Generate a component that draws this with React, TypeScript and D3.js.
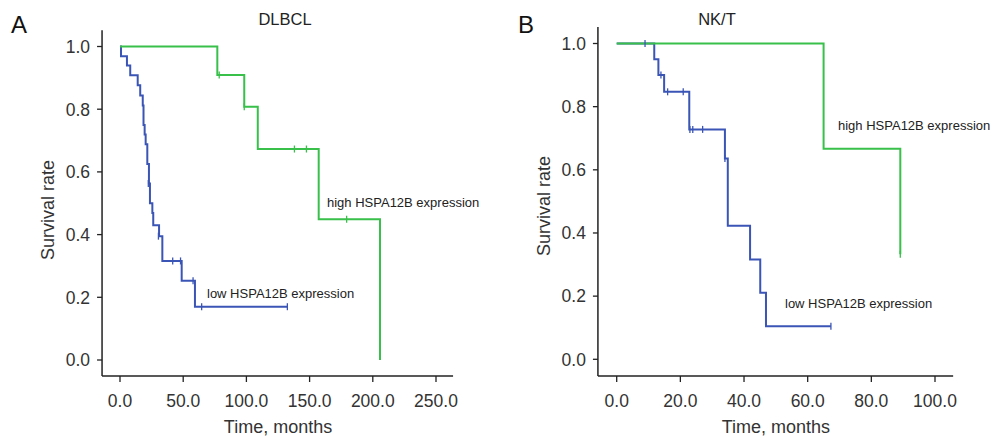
import React from "react";
import * as d3 from "d3";

// ---------- DATA ----------
// Panel A (DLBCL)
const lowA_steps: [number, number][] = [
  [0, 1], [0.8, 0.969], [5.5, 0.939], [8.1, 0.908], [14, 0.876], [16, 0.844],
  [18, 0.812], [18.6, 0.75], [19.5, 0.719], [20.3, 0.688], [21.6, 0.625],
  [22.9, 0.563], [23.7, 0.5], [25.6, 0.469], [26.3, 0.43], [30.9, 0.395],
  [33.5, 0.316], [48.8, 0.253], [59.3, 0.17], [132.4, 0.17],
];
const lowA_censor: [number, number][] = [
  [22.4, 0.563], [30.4, 0.395], [41.7, 0.316], [47.9, 0.316], [57.8, 0.253],
  [64.6, 0.17], [132.4, 0.17],
];
const highA_steps: [number, number][] = [
  [0, 1], [77, 0.909], [98.3, 0.808], [109, 0.673], [157.2, 0.449], [205.7, 0],
  [205.7, 0],
];
const highA_censor: [number, number][] = [
  [78.5, 0.909], [98.3, 0.808], [138, 0.673], [147.5, 0.673], [179.3, 0.449],
];
// Panel B (NK/T)
const lowB_steps: [number, number][] = [
  [0, 1], [11.8, 0.95], [13.1, 0.9], [14.9, 0.847], [22.8, 0.728], [34, 0.636],
  [34.9, 0.423], [41.9, 0.316], [45.1, 0.211], [46.9, 0.105], [67.3, 0.105],
];
const lowB_censor: [number, number][] = [
  [8.9, 1], [13.9, 0.9], [16, 0.847], [20.9, 0.847], [23, 0.728], [23.9, 0.728],
  [27, 0.728], [34, 0.636], [67.3, 0.105],
];
const highB_steps: [number, number][] = [
  [0, 1], [65, 0.667], [89.1, 0.333], [89.1, 0.333],
];
const highB_censor: [number, number][] = [[89.1, 0.333]];

const xTicksA = [0, 50, 100, 150, 200, 250];
const xTicksB = [0, 20, 40, 60, 80, 100];
const yTicks = [0, 0.2, 0.4, 0.6, 0.8, 1.0];

const GREEN = "#38c04a";
const BLUE = "#3a55b5";
const FONT = "'Liberation Sans', Arial, Helvetica, sans-serif";

type PanelProps = {
  letter: string;
  title: string;
  titleX: number;
  letterX: number;
  x: d3.ScaleLinear<number, number>;
  y: d3.ScaleLinear<number, number>;
  xAxisDomain: [number, number];
  yAxisDomain: [number, number];
  xTicks: number[];
  low: [number, number][];
  lowC: [number, number][];
  high: [number, number][];
  highC: [number, number][];
  lowLabel: [number, number];
  highLabel: [number, number];
  yLabelCenter: number;
};

function Panel(p: PanelProps) {
  const { x, y } = p;
  const line = d3
    .line<[number, number]>()
    .x((d) => x(d[0]))
    .y((d) => y(d[1]))
    .curve(d3.curveStepAfter);
  const x0 = x(p.xAxisDomain[0]);
  const x1 = x(p.xAxisDomain[1]);
  const yb = y(p.yAxisDomain[0]);
  const yt = y(p.yAxisDomain[1]);
  const censor = (pts: [number, number][], color: string) =>
    pts.map((d, i) => (
      <line
        key={i}
        x1={x(d[0])}
        x2={x(d[0])}
        y1={y(d[1]) - 3.5}
        y2={y(d[1]) + 3.5}
        stroke={color}
        strokeWidth={1.3}
      />
    ));
  return (
    <g fontFamily={FONT}>
      <text x={p.letterX} y={33} fontSize={24} fill="#111">{p.letter}</text>
      <text x={p.titleX} y={25} fontSize={16.5} fill="#222" textAnchor="middle">{p.title}</text>
      {/* axes */}
      <line x1={x0} x2={x0} y1={yt} y2={yb} stroke="#222" strokeWidth={1.5} />
      <line x1={x0} x2={x1} y1={yb} y2={yb} stroke="#222" strokeWidth={1.5} />
      {yTicks.map((t) => (
        <g key={t}>
          <line x1={x0 - 5} x2={x0} y1={y(t)} y2={y(t)} stroke="#222" strokeWidth={1.3} />
          <text x={x0 - 12} y={y(t)} dy="0.36em" fontSize={17.5} fill="#333" textAnchor="end">
            {t.toFixed(1)}
          </text>
        </g>
      ))}
      {p.xTicks.map((t) => (
        <g key={t}>
          <line x1={x(t)} x2={x(t)} y1={yb} y2={yb + 6} stroke="#222" strokeWidth={1.3} />
          <text x={x(t)} y={yb + 31} fontSize={17.5} fill="#333" textAnchor="middle">
            {t.toFixed(1)}
          </text>
        </g>
      ))}
      <text x={(x(p.xTicks[0]) + x(p.xTicks[p.xTicks.length - 1])) / 2} y={433} fontSize={18} fill="#333" textAnchor="middle">
        Time, months
      </text>
      <text
        transform={`translate(${x0 - 48},${p.yLabelCenter}) rotate(-90)`}
        fontSize={18}
        fill="#333"
        textAnchor="middle"
      >
        Survival rate
      </text>
      {/* curves */}
      <path d={line(p.low) || ""} fill="none" stroke={BLUE} strokeWidth={2} />
      <path d={line(p.high) || ""} fill="none" stroke={GREEN} strokeWidth={2} />
      {censor(p.highC, GREEN)}
      {censor(p.lowC, BLUE)}
      <text x={p.lowLabel[0]} y={p.lowLabel[1]} fontSize={13} fill="#222">low HSPA12B expression</text>
      <text x={p.highLabel[0]} y={p.highLabel[1]} fontSize={13} fill="#222">high HSPA12B expression</text>
    </g>
  );
}

export default function App() {
  const xA = d3.scaleLinear().domain([0, 250]).range([120, 436]);
  const yA = d3.scaleLinear().domain([0, 1]).range([360, 46.5]);
  const xB = d3.scaleLinear().domain([0, 100]).range([616.7, 935]);
  const yB = d3.scaleLinear().domain([0, 1]).range([359.3, 43.5]);
  return (
    <svg
      width={993}
      height={438}
      style={{ position: "absolute", left: 0, top: 0, background: "#fff" }}
    >
      <rect width={993} height={438} fill="#fff" />
      <Panel
        letter="A"
        title="DLBCL"
        titleX={285}
        letterX={11}
        x={xA}
        y={yA}
        xAxisDomain={[-14.2, 263.5]}
        yAxisDomain={[-0.051, 1.052]}
        xTicks={xTicksA}
        low={lowA_steps}
        lowC={lowA_censor}
        high={highA_steps}
        highC={highA_censor}
        lowLabel={[207, 298]}
        highLabel={[327, 207]}
        yLabelCenter={210}
      />
      <Panel
        letter="B"
        title="NK/T"
        titleX={717}
        letterX={518}
        x={xB}
        y={yB}
        xAxisDomain={[-5.9, 105.7]}
        yAxisDomain={[-0.053, 1.052]}
        xTicks={xTicksB}
        low={lowB_steps}
        lowC={lowB_censor}
        high={highB_steps}
        highC={highB_censor}
        lowLabel={[785, 308]}
        highLabel={[838, 130]}
        yLabelCenter={206}
      />
    </svg>
  );
}
